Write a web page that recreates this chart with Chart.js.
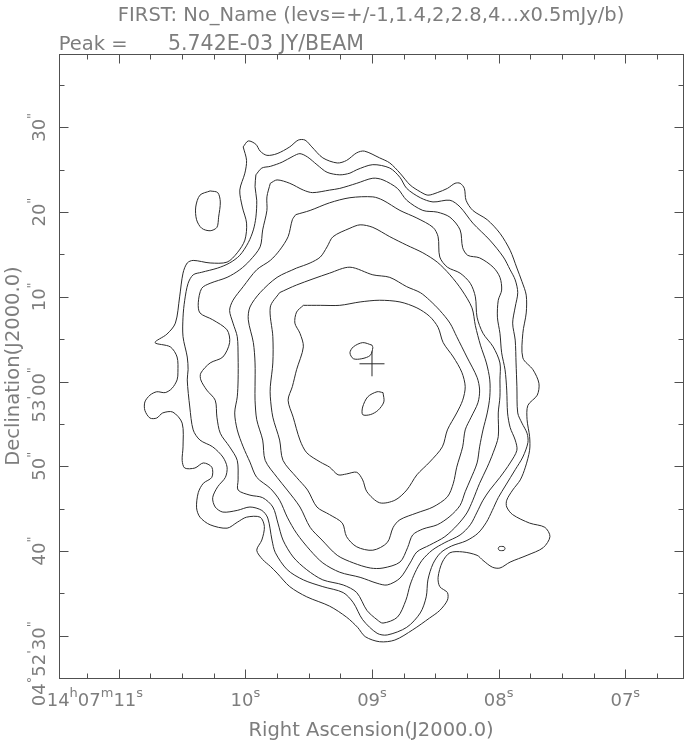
<!DOCTYPE html>
<html lang="en">
<head>
<meta charset="UTF-8">
<title>FIRST: No_Name</title>
<script src="https://cdn.jsdelivr.net/npm/chart.js"></script>
<style>
  html, body { margin: 0; padding: 0; background: #fff; overflow: hidden; }
  canvas { display: block; }
</style>
</head>
<body>
<canvas id="mapa" width="685" height="746"></canvas>
<script>
// contour positions: arcsec offsets, x = west of 14h07m09s, y = north of +04d53m00s
// levels: 1,1.4,2,2.8,4,5.6,8,11.2 x 0.5 mJy/beam

const lev0p5 = [[-15.2,27.7],[-14.6,28.4],[-13.7,28.0],[-13.2,27.2],[-12.4,26.7],[-11.2,26.9],[-9.7,27.7],[-8.7,28.5],[-7.9,28.5],[-7.1,27.7],[-5.8,26.4],[-4.1,25.8],[-3.0,26.1],[-1.8,27.0],[-0.9,27.2],[0.9,26.4],[2.1,25.8],[3.3,24.6],[4.5,23.2],[5.7,22.4],[6.6,22.0],[7.7,22.3],[8.9,22.8],[9.8,23.4],[10.4,23.4],[10.9,22.8],[11.1,21.4],[11.9,20.2],[13.6,19.1],[15.1,17.5],[16.3,15.5],[17.1,13.4],[17.7,11.8],[18.2,10.2],[18.2,8.1],[17.8,5.7],[17.8,2.8],[19.0,1.4],[19.7,-0.2],[19.5,-1.6],[18.4,-2.8],[18.3,-4.5],[18.6,-6.5],[18.6,-8.1],[18.1,-10.1],[17.5,-11.6],[16.6,-12.8],[15.9,-14.0],[15.9,-14.8],[16.6,-15.7],[18.6,-16.7],[20.4,-17.2],[21.0,-18.3],[20.2,-19.6],[18.3,-20.5],[16.3,-21.3],[15.1,-22.0],[14.2,-21.9],[13.1,-21.1],[12.4,-20.5],[10.7,-20.1],[9.2,-20.2],[8.3,-21.3],[7.8,-23.1],[8.0,-24.2],[8.9,-24.9],[8.9,-25.8],[8.0,-27.0],[6.8,-27.9],[4.8,-29.3],[2.7,-30.5],[0.9,-30.7],[-0.8,-30.1],[-1.7,-29.0],[-3.0,-27.8],[-5.0,-26.5],[-7.7,-25.4],[-9.7,-24.2],[-11.2,-22.6],[-12.0,-21.8],[-12.9,-21.0],[-13.6,-19.9],[-13.0,-18.7],[-12.7,-17.1],[-13.2,-16.0],[-14.8,-16.0],[-15.9,-16.6],[-17.1,-17.3],[-19.1,-16.9],[-20.3,-16.0],[-20.7,-14.9],[-20.5,-13.1],[-19.9,-12.0],[-18.9,-11.3],[-18.9,-10.1],[-19.9,-9.6],[-20.9,-10.2],[-22.1,-10.2],[-22.4,-9.3],[-22.3,-7.7],[-22.4,-4.9],[-23.5,-3.6],[-24.7,-3.7],[-25.4,-4.3],[-26.2,-4.3],[-26.8,-3.4],[-26.8,-2.4],[-26.2,-1.6],[-25.4,-1.2],[-24.4,-1.3],[-23.6,-0.8],[-23.0,0.2],[-22.9,1.1],[-23.0,2.9],[-23.8,4.1],[-25.6,4.6],[-24.2,5.6],[-23.2,6.9],[-22.7,10.0],[-22.3,12.8],[-21.8,14.0],[-21.1,14.3],[-19.1,14.0],[-17.1,14.1],[-15.9,15.2],[-15.0,16.7],[-14.8,18.7],[-15.3,20.6],[-15.6,22.6],[-15.0,24.6],[-14.8,26.1],[-15.2,27.7]];

const lev0p5East = [[-19.1,22.5],[-20.3,22.0],[-20.8,20.6],[-20.7,19.1],[-20.1,18.1],[-19.1,17.8],[-18.3,18.2],[-18.1,19.4],[-17.9,21.2],[-18.2,22.3],[-19.1,22.5]];

const lev0p7 = [[-13.7,24.4],[-13.0,25.2],[-12.0,25.4],[-10.6,25.9],[-9.3,26.6],[-8.5,26.9],[-7.6,26.5],[-6.5,25.6],[-5.3,24.7],[-3.8,24.4],[-2.6,24.6],[-1.8,25.0],[0.1,25.6],[2.1,25.2],[3.3,24.1],[4.1,22.8],[5.7,21.7],[7.2,21.2],[9.2,21.4],[10.4,20.6],[11.9,18.7],[13.9,16.7],[15.5,14.7],[16.3,13.2],[16.9,12.0],[17.2,10.5],[16.9,8.8],[16.6,6.9],[16.9,4.9],[17.0,2.2],[17.1,-0.6],[17.2,-3.7],[17.7,-4.9],[18.3,-6.1],[18.4,-7.2],[17.8,-8.9],[16.9,-10.4],[15.8,-12.2],[14.9,-13.7],[14.2,-15.2],[13.5,-16.6],[12.5,-17.9],[11.1,-18.8],[9.4,-19.4],[8.1,-20.2],[7.2,-21.5],[6.6,-23.4],[6.4,-25.4],[5.7,-27.3],[4.1,-29.0],[1.8,-29.9],[0.6,-29.7],[-1.1,-28.1],[-2.2,-26.1],[-3.4,-24.9],[-5.8,-24.2],[-8.1,-23.4],[-10.0,-22.2],[-11.4,-20.2],[-11.8,-18.7],[-12.3,-16.1],[-13.0,-15.2],[-14.4,-14.8],[-15.9,-15.2],[-17.6,-15.4],[-18.5,-14.8],[-18.8,-13.7],[-18.2,-12.4],[-17.3,-11.3],[-17.1,-10.1],[-17.6,-8.9],[-18.8,-7.7],[-20.3,-6.9],[-21.1,-5.7],[-21.5,-3.0],[-21.8,0.2],[-21.7,1.4],[-21.8,2.9],[-22.3,5.3],[-22.3,7.6],[-22.1,9.6],[-21.7,11.6],[-21.1,12.6],[-20.1,12.9],[-18.2,13.4],[-16.8,14.0],[-15.6,14.9],[-14.6,16.4],[-14.0,17.9],[-13.7,19.4],[-13.6,21.4],[-13.8,23.0],[-13.7,24.4]];

const lev0p7Speck = [[15.7,-19.7],[15.6,-19.5],[15.3,-19.45],[15.0,-19.5],[14.9,-19.7],[15.0,-19.9],[15.3,-19.95],[15.6,-19.9],[15.7,-19.7]];

const lev1p0 = [[-12.0,23.4],[-11.2,23.8],[-9.7,23.4],[-8.1,22.6],[-7.0,22.3],[-5.0,22.6],[-3.8,22.8],[-1.8,23.4],[0.1,24.0],[1.3,23.8],[3.0,22.8],[4.1,21.4],[6.0,20.2],[7.7,20.0],[9.2,19.4],[10.4,17.9],[10.7,15.8],[11.3,14.9],[12.7,14.6],[14.3,13.5],[15.1,12.3],[15.3,10.8],[14.9,9.6],[14.8,7.6],[15.1,5.7],[15.3,3.4],[15.7,1.4],[15.9,-1.0],[16.0,-3.7],[16.3,-5.4],[16.9,-6.9],[17.1,-8.1],[16.3,-9.6],[15.1,-11.3],[13.9,-12.8],[13.1,-14.0],[12.4,-15.4],[11.6,-16.9],[10.4,-18.1],[8.6,-19.0],[7.1,-19.9],[5.9,-21.1],[5.1,-22.5],[4.5,-24.0],[4.0,-25.8],[3.0,-27.8],[1.3,-28.5],[0.6,-28.1],[-0.6,-27.0],[-1.8,-24.9],[-3.4,-24.0],[-5.8,-23.4],[-7.7,-22.2],[-9.3,-20.7],[-10.5,-18.7],[-11.1,-16.7],[-11.7,-14.8],[-12.9,-13.7],[-14.4,-13.4],[-15.8,-12.8],[-15.8,-11.6],[-15.9,-9.3],[-16.8,-7.7],[-17.9,-6.1],[-18.3,-4.2],[-18.5,-2.2],[-19.5,-1.0],[-20.2,0.2],[-20.2,1.0],[-19.1,2.2],[-17.6,2.9],[-16.8,4.6],[-17.1,6.1],[-18.8,7.3],[-20.3,8.1],[-20.5,9.3],[-20.1,11.0],[-19.1,11.6],[-17.1,12.3],[-15.6,13.2],[-14.4,14.3],[-13.2,15.9],[-12.9,17.9],[-12.4,20.2],[-12.4,21.8],[-12.0,23.4]];

const lev1p4 = [[-9.0,19.7],[-7.3,20.2],[-5.0,21.1],[-2.6,21.7],[0.1,21.8],[1.3,21.4],[3.3,20.2],[5.3,19.3],[7.2,18.2],[7.8,17.1],[8.0,14.7],[8.9,13.5],[10.4,12.8],[11.6,11.6],[12.2,10.0],[12.4,7.6],[13.1,5.7],[14.3,4.1],[15.1,2.2],[15.1,0.2],[15.1,-1.8],[14.9,-3.7],[14.9,-6.5],[14.3,-8.4],[13.6,-10.1],[12.7,-12.0],[11.9,-14.0],[11.2,-15.5],[10.1,-16.9],[8.6,-18.3],[6.8,-19.3],[5.3,-20.1],[4.5,-21.4],[3.3,-23.2],[1.8,-24.0],[0.6,-23.8],[-1.4,-23.1],[-3.8,-22.5],[-5.8,-21.4],[-7.3,-19.9],[-8.9,-17.9],[-10.0,-16.0],[-10.9,-14.0],[-12.0,-12.6],[-13.6,-11.3],[-14.4,-9.5],[-15.2,-7.7],[-15.9,-5.7],[-16.2,-3.7],[-15.9,-1.8],[-15.8,0.2],[-15.8,2.9],[-15.9,5.3],[-16.4,6.9],[-16.8,8.4],[-16.4,9.6],[-15.2,11.2],[-13.6,13.2],[-12.0,14.3],[-10.9,15.5],[-9.9,17.1],[-9.4,19.1],[-9.0,19.7]];

const lev2p0 = [[-8.9,13.4],[-7.3,14.0],[-6.1,14.7],[-5.3,15.9],[-4.6,17.1],[-2.6,18.1],[-1.4,18.5],[0.1,18.2],[2.1,17.1],[4.1,16.1],[6.0,15.2],[7.7,14.1],[9.2,12.6],[10.6,10.8],[11.8,8.7],[12.2,6.6],[12.8,4.3],[13.5,2.2],[13.9,0.2],[13.9,-1.8],[13.6,-3.7],[13.1,-5.7],[12.7,-7.7],[12.4,-9.6],[11.6,-11.6],[11.0,-13.0],[10.4,-14.6],[9.2,-15.9],[7.7,-16.9],[6.0,-17.4],[4.8,-18.1],[4.2,-19.6],[3.3,-21.3],[1.3,-22.0],[-0.2,-22.0],[-2.2,-21.4],[-4.1,-20.5],[-5.9,-18.7],[-7.3,-17.2],[-8.5,-14.8],[-10.0,-12.8],[-11.2,-11.3],[-12.6,-9.3],[-12.9,-6.9],[-13.6,-4.5],[-13.8,-2.2],[-13.8,-0.6],[-13.8,2.2],[-14.0,4.6],[-14.6,7.3],[-14.4,8.8],[-13.2,10.5],[-11.2,12.3],[-8.9,13.4]];

const lev2p8 = [[-10.9,10.5],[-8.9,11.4],[-5.0,12.8],[-2.6,13.5],[0.1,12.6],[2.1,12.3],[4.1,11.2],[5.7,10.5],[6.8,9.6],[8.0,8.4],[9.2,6.9],[10.0,5.3],[11.2,2.9],[12.4,0.5],[12.7,-1.0],[12.5,-2.5],[11.7,-4.2],[11.0,-5.7],[10.7,-7.7],[10.0,-10.1],[9.6,-12.0],[8.9,-13.6],[7.2,-14.8],[5.3,-15.5],[3.3,-16.3],[2.5,-17.2],[1.8,-19.0],[0.1,-19.9],[-1.8,-19.5],[-3.0,-18.3],[-3.5,-16.7],[-5.0,-15.7],[-6.5,-14.8],[-7.6,-12.8],[-8.9,-11.3],[-10.5,-9.3],[-10.9,-6.9],[-11.7,-4.2],[-12.0,-1.8],[-12.0,-0.6],[-11.7,2.2],[-11.7,5.3],[-12.0,8.8],[-10.9,10.5]];

const lev4p0 = [[-8.1,9.0],[-6.1,9.0],[-3.8,9.0],[-1.4,9.4],[0.9,9.6],[3.3,9.4],[5.3,8.7],[6.8,7.7],[7.8,6.4],[8.4,4.6],[9.6,2.9],[10.6,1.1],[11.0,-0.6],[10.7,-2.2],[10.0,-3.7],[8.9,-5.7],[8.3,-7.7],[6.8,-9.5],[5.3,-11.0],[4.1,-12.8],[2.7,-14.0],[0.9,-14.3],[-0.6,-13.0],[-1.1,-11.6],[-1.8,-10.7],[-3.0,-10.9],[-4.0,-11.0],[-5.0,-10.1],[-6.1,-9.5],[-7.7,-8.4],[-8.5,-6.9],[-9.3,-4.2],[-9.9,-2.2],[-9.4,-0.6],[-8.9,1.4],[-8.1,4.1],[-8.5,5.7],[-9.1,6.9],[-8.9,8.2],[-8.1,9.0]];

const lev5p6North = [[0.0,4.3],[-1.1,4.6],[-2.2,4.1],[-2.6,3.4],[-2.2,2.7],[-1.2,2.7],[-0.2,3.1],[0.1,4.0],[0.0,4.3]];
const lev5p6South = [[1.3,-1.3],[0.6,-1.2],[-0.5,-1.8],[-1.1,-3.0],[-1.1,-3.9],[-0.2,-3.9],[0.7,-3.4],[1.4,-2.4],[1.3,-1.3]];

const sourcePos = [[0.0, 2.1]];

// axis ticks
const raTicks = [11, 10, 9, 8, 7];              // seconds of 14h07m
const raLabels = [['14','h','07','m','11','s'], ['10','s'], ['09','s'], ['08','s'], ['07','s']];
const decTicks = [-30, -20, -10, 0, 10, 20, 30]; // arcsec from +04d53m00s
const decLabels = [['04','\u00b0','52','\'','30','"'], ['40','"'], ['50','"'], ['53','\'','00','"'], ['10','"'], ['20','"'], ['30','"']];

const SEC_TO_ARCSEC = 15 * Math.cos(4.883 * Math.PI / 180);
const raToX = s => (9 - s) * SEC_TO_ARCSEC;

const FONT_TICK = '18px "DejaVu Sans", sans-serif';
const FONT_SUP = '13px "DejaVu Sans", sans-serif';
const FONT_TEXT = '19.5px "DejaVu Sans", sans-serif';
const TEXT_COLOR = '#7d7d7d';

// last field (number + unit) is centred on the tick; minStart keeps the label off the corner
function drawLabel(ctx, parts, pos, minStart) {
  const w = parts.map((p, i) => { ctx.font = i % 2 ? FONT_SUP : FONT_TICK; return ctx.measureText(p).width; });
  const k = parts.length - 2;
  let before = 0;
  for (let i = 0; i < k; i++) before += w[i];
  let cx = pos - before - (w[k] + w[k + 1]) / 2;
  if (minStart !== undefined) cx = Math.max(cx, minStart);
  parts.forEach((p, i) => {
    ctx.font = i % 2 ? FONT_SUP : FONT_TICK;
    ctx.fillText(p, cx, i % 2 ? -9 : 0);
    cx += w[i];
  });
}

const molduraPlugin = {
  id: 'moldura',
  afterDraw(chart) {
    const { ctx, chartArea: a, scales: { x, y } } = chart;
    ctx.save();
    ctx.strokeStyle = '#505050';
    ctx.lineWidth = 1;
    const L = Math.round(a.left) + 0.5, R = Math.round(a.right) - 0.5;
    const T = Math.round(a.top) + 0.5, B = Math.round(a.bottom) + 0.5;
    ctx.strokeRect(L, T, R - L, B - T);

    // ticks pointing inward on all four sides
    ctx.beginPath();
    for (let s = 11.25; s >= 6.75; s -= 0.25) {
      const px = Math.round(x.getPixelForValue(raToX(s))) + 0.5;
      const len = Number.isInteger(s) ? 9 : 5;
      ctx.moveTo(px, B); ctx.lineTo(px, B - len);
      ctx.moveTo(px, T); ctx.lineTo(px, T + len);
    }
    for (let d = -30; d <= 35; d += 5) {
      const py = Math.round(y.getPixelForValue(d)) + 0.5;
      if (py < T || py > B) continue;
      const len = d % 10 === 0 ? 9 : 5;
      ctx.moveTo(L, py); ctx.lineTo(L + len, py);
      ctx.moveTo(R, py); ctx.lineTo(R - len, py);
    }
    ctx.stroke();

    ctx.fillStyle = TEXT_COLOR;
    ctx.textBaseline = 'alphabetic';
    ctx.textAlign = 'left';

    // RA labels
    ctx.save();
    ctx.translate(0, 706);
    raTicks.forEach((s, i) => drawLabel(ctx, raLabels[i], x.getPixelForValue(raToX(s)), i === 0 ? a.left - 12 : undefined));
    ctx.restore();

    // Dec labels, rotated
    ctx.save();
    ctx.translate(45, 0);
    ctx.rotate(-Math.PI / 2);
    decTicks.forEach((d, i) => drawLabel(ctx, decLabels[i], -y.getPixelForValue(d)));
    ctx.restore();

    const cxArea = (a.left + a.right) / 2;
    ctx.font = FONT_TEXT;
    ctx.textAlign = 'center';
    ctx.fillText('FIRST: No_Name (levs=+/-1,1.4,2,2.8,4...x0.5mJy/b)', cxArea, 21);
    ctx.fillText('Right Ascension(J2000.0)', cxArea, 736);
    ctx.textAlign = 'left';
    ctx.fillText('Peak =', a.left, 50);
    ctx.font = '20.5px "DejaVu Sans", sans-serif';
    ctx.fillText('5.742E-03 JY/BEAM', 168, 50);

    ctx.font = FONT_TEXT;
    ctx.save();
    ctx.translate(19, (a.top + a.bottom) / 2);
    ctx.rotate(-Math.PI / 2);
    ctx.textAlign = 'center';
    ctx.fillText('Declination(J2000.0)', 0, 0);
    ctx.restore();

    ctx.restore();
  }
};

const toPts = arr => arr.map(p => ({ x: p[0], y: p[1] }));
const contorno = arr => ({
  data: toPts(arr),
  showLine: true,
  borderColor: '#2b2b2b',
  borderWidth: 1,
  pointRadius: 0,
  tension: 0.3,
  fill: false
});

const contornos = [lev0p5, lev0p5East, lev0p7, lev0p7Speck, lev1p0, lev1p4, lev2p0, lev2p8, lev4p0, lev5p6North, lev5p6South];

new Chart(document.getElementById('mapa'), {
  type: 'scatter',
  data: {
    datasets: contornos.map(contorno).concat([{
      data: toPts(sourcePos),
      pointStyle: 'cross',
      pointRadius: 12.5,
      borderColor: '#2b2b2b',
      borderWidth: 1,
      showLine: false
    }])
  },
  options: {
    responsive: false,
    animation: false,
    layout: { autoPadding: false, padding: { top: 54, right: 1.5, left: 0, bottom: 0 } },
    plugins: { legend: { display: false }, tooltip: { enabled: false } },
    scales: {
      x: {
        type: 'linear', min: -36.97, max: 36.76,
        grid: { display: false }, border: { display: false }, ticks: { display: false },
        afterFit(s) { s.height = 68; }
      },
      y: {
        type: 'linear', min: -34.98, max: 38.66,
        grid: { display: false }, border: { display: false }, ticks: { display: false },
        afterFit(s) { s.width = 58.7; }
      }
    }
  },
  plugins: [molduraPlugin]
});
</script>
</body>
</html>
